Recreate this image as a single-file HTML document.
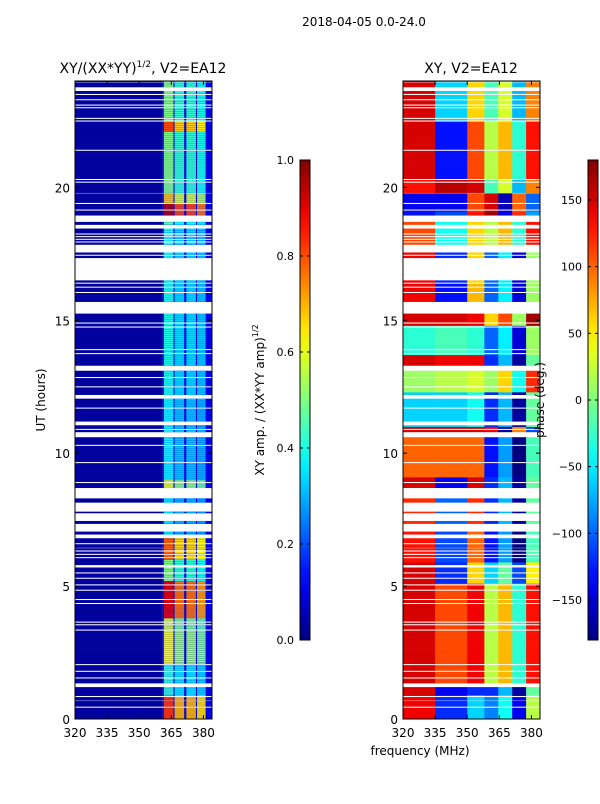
<!DOCTYPE html>
<html><head><meta charset="utf-8"><style>
body{margin:0;background:#fff;width:600px;height:800px;overflow:hidden;font-family:"DejaVu Sans","Liberation Sans",sans-serif}
svg text{font-family:"DejaVu Sans","Liberation Sans",sans-serif;fill:#000}
</style></head><body>
<svg id="fig" width="600" height="800" xmlns="http://www.w3.org/2000/svg">
<text x="364" y="26" font-size="12" text-anchor="middle">2018-04-05 0.0-24.0</text>
<text x="143" y="73" font-size="14" text-anchor="middle">XY/(XX*YY)<tspan dy="-6" font-size="9">1/2</tspan><tspan dy="6">, V2=EA12</tspan></text>
<text x="471" y="73" font-size="14" text-anchor="middle">XY, V2=EA12</text>
<text x="45" y="400" font-size="12" text-anchor="middle" transform="rotate(-90 45 400)">UT (hours)</text>
<text x="420" y="755" font-size="12" text-anchor="middle">frequency (MHz)</text>
<text x="264" y="400" font-size="12" text-anchor="middle" transform="rotate(-90 264 400)">XY amp. / (XX*YY amp)<tspan dy="-6" font-size="8">1/2</tspan></text>
<g id="left"></g>
<g id="right"></g>
<g id="axes"></g>
<text x="544" y="400" font-size="12" text-anchor="middle" transform="rotate(-90 544 400)">phase (deg.)</text>
</svg>
<script>
// ---- data ----
var gaps=[[23.93,24],[23.63,23.78],[23.47,23.53],[23.27,23.33],[23.07,23.13],[22.97,23.03],[22.57,22.63],[22.47,22.53],[21.37,21.43],[20.27,20.33],[20.17,20.23],[19.75,19.82],[19.37,19.43],[19.12,19.18],[18.7,18.95],[18.45,18.6],[18.22,18.28],[18.12,18.18],[18.02,18.08],[17.93,17.98],[17.55,17.85],[17.42,17.48],[16.5,17.35],[16.37,16.43],[16.22,16.28],[16.02,16.08],[15.25,15.7],[14.87,14.93],[14.72,14.78],[13.87,13.93],[13.72,13.78],[13.1,13.3],[12.82,12.88],[12.47,12.53],[12.05,12.2],[11.67,11.73],[11.05,11.2],[10.87,10.93],[10.6,10.8],[10.27,10.33],[9.62,9.68],[8.87,8.93],[8.3,8.7],[7.8,8.15],[7.45,7.75],[7.05,7.35],[6.8,6.95],[6.57,6.63],[6.42,6.46],[6.3,6.34],[6.18,6.22],[6.06,6.1],[5.7,5.8],[5.47,5.53],[5.27,5.33],[5.02,5.08],[4.82,4.88],[4.47,4.53],[4.32,4.38],[3.62,3.68],[3.52,3.58],[3.32,3.38],[2.02,2.08],[1.77,1.83],[1.52,1.58],[1.2,1.35],[0.82,0.88],[0.65,0.72],[0.42,0.48]];
var ampSegStart=[0,0.9,2.1,3.3,3.8,5.2,6.0,6.9,8.7,9.0,12.0,18.5,18.9,19.4,19.8,22.1,22.5];
var ampSegLevel=[0.82,0.42,0.62,0.58,0.9,0.5,0.78,0.35,0.6,0.38,0.4,0.45,0.95,0.68,0.5,0.8,0.5];
var bandStart=[361.5,366.5,372,377];
var bandEnd=[366,371,376.5,381];
var bandMod=[1.0,0.85,0.85,0.8];
// phase segments (start hour) and phases for regions A(320-335) B(335-350) C(350-358) D(358-384)
var phSegStart=[0,0.9,1.2,5.1,5.9,7.1,8.6,9.1,10.7,11.0,12.3,13.3,13.7,14.8,15.3,16.4,17.6,18.8,19.1,19.8,20.3,22.5];
var phA=[140,150,150,150,130,120,150,100,150,-60,10,150,-30,150,140,140,110,-130,-140,130,150,150];
var phB=[-120,-140,110,-120,-110,-100,-140,100,150,-60,20,140,-20,150,-130,-120,-40,-110,-140,160,-130,-60];
var phC=[-60,-120,140,60,100,120,150,100,150,-40,30,140,-30,140,70,60,60,130,110,150,110,60];
var phD=[-90,-120,20,-60,-130,-120,-120,-130,140,-120,10,-120,-100,60,-100,-100,20,170,150,-20,20,-20];
var dOffset=[0,50,-50,110];
var ampTicks=[0,0.2,0.4,0.6,0.8,1.0];
var phTicks=[-150,-100,-50,0,50,100,150];
var timeTicks=[0,5,10,15,20];
var freqTicks=[320,335,350,365,380];

// ---- geometry ----
var NS='http://www.w3.org/2000/svg';
var Y0=719,Y1=81;
function yT(t){return Y0-(t/24)*(Y0-Y1);}
function xF(x0,f){return x0+(f-320)/64*137;}
function jet(v){v=Math.max(0,Math.min(1,v));
 function c(x){return Math.round(255*Math.max(0,Math.min(1,x)));}
 var r=c(Math.min(4*v-1.5,-4*v+4.5)),g=c(Math.min(4*v-0.5,-4*v+3.5)),b=c(Math.min(4*v+0.5,-4*v+2.5));
 return 'rgb('+r+','+g+','+b+')';}
function el(tag,attrs,parent){var e=document.createElementNS(NS,tag);for(var k in attrs)e.setAttribute(k,attrs[k]);parent.appendChild(e);return e;}
function inGap(t){for(var i=0;i<gaps.length;i++){var a=gaps[i][0],b=gaps[i][1];
 if(b-a<0.08){var m=(a+b)/2;a=m-0.02;b=m+0.02;}
 if(t>=a&&t<b)return true;}return false;}
function segIdx(starts,t){var k=0;for(var i=0;i<starts.length;i++)if(t>=starts[i])k=i;return k;}
function wrap(p){while(p>180)p-=360;while(p<-180)p+=360;return p;}

var L=document.getElementById('left'),R=document.getElementById('right');
var dt=0.025;
for(var t=0;t<24-1e-9;t+=dt){
 var tc=t+dt/2;if(inGap(tc))continue;
 var y=yT(t+dt),h=yT(t)-yT(t+dt)+0.3;
 var lv=ampSegLevel[segIdx(ampSegStart,tc)];
 var r=el('rect',{x:75,y:y,width:xF(75,361)-75,height:h,fill:jet(0.03)},L);
 
 
 r=el('rect',{x:xF(75,361),y:y,width:xF(75,384)-xF(75,361),height:h,fill:jet(0.1)},L);
 
 
 for(var b=0;b<bandStart.length;b++){
  var c=el('rect',{x:xF(75,bandStart[b]),y:y,width:xF(75,bandEnd[b])-xF(75,bandStart[b]),height:h,fill:jet(lv*bandMod[b])},L);
  
  
 }
 var k=segIdx(phSegStart,tc);
 var regs=[[320,335,phA[k]],[335,350,phB[k]],[350,358,phC[k]]];
 for(var i=0;i<regs.length;i++){
  var c2=el('rect',{x:xF(403,regs[i][0]),y:y,width:xF(403,regs[i][1])-xF(403,regs[i][0])+0.3,height:h,fill:jet((wrap(regs[i][2])+180)/360)},R);
  
  
 }
 for(var d=0;d<4;d++){
  var f0=358+d*6.5,f1=f0+6.5;
  var c3=el('rect',{x:xF(403,f0),y:y,width:xF(403,f1)-xF(403,f0)+0.3,height:h,fill:jet((wrap(phD[k]+dOffset[d])+180)/360)},R);
  
  
 }
}
var A=document.getElementById('axes');
[[75,'left'],[403,'right']].forEach(function(p){
 var x0=p[0];
 var fr=el('rect',{x:x0,y:Y1,width:137,height:Y0-Y1,fill:'none',stroke:'#000','stroke-width':1},A);
 
 
 timeTicks.forEach(function(tv){
  var yy=yT(tv);
  el('line',{x1:x0,x2:x0+4,y1:yy,y2:yy,stroke:'#000'},A);
  el('line',{x1:x0+137,x2:x0+133,y1:yy,y2:yy,stroke:'#000'},A);
  var tx=el('text',{x:x0-5,y:yy+5,'font-size':12,'text-anchor':'end'},A);tx.textContent=tv;
  
  
 });
 freqTicks.forEach(function(fv){
  var xx=xF(x0,fv);
  el('line',{x1:xx,x2:xx,y1:Y0,y2:Y0-4,stroke:'#000'},A);
  el('line',{x1:xx,x2:xx,y1:Y1,y2:Y1+4,stroke:'#000'},A);
  var tx=el('text',{x:xx,y:Y0+18,'font-size':12,'text-anchor':'middle'},A);tx.textContent=fv;
  
  
 });
});
function colorbar(x,id,ticks,vmin,vmax,fmt,name){
 var defs=el('defs',{},A);
 var g=el('linearGradient',{id:id,x1:0,y1:1,x2:0,y2:0},defs);
 for(var i=0;i<=20;i++)el('stop',{offset:i/20,'stop-color':jet(i/20)},g);
 var cb=el('rect',{x:x,y:160,width:10,height:480,fill:'url(#'+id+')',stroke:'#000','stroke-width':1},A);
 
 
 ticks.forEach(function(v){
  var yy=640-(v-vmin)/(vmax-vmin)*480;
  el('line',{x1:x,x2:x+3,y1:yy,y2:yy,stroke:'#000'},A);
  el('line',{x1:x+10,x2:x+7,y1:yy,y2:yy,stroke:'#000'},A);
  var tx=el('text',{x:x-6,y:yy+4,'font-size':11,'text-anchor':'end'},A);tx.textContent=fmt(v);
  
  
 });
}
colorbar(300,'g1',ampTicks,0,1,function(v){return v.toFixed(1);},'amp-colorbar');
colorbar(588,'g2',phTicks,-180,180,function(v){return v<0?'\u2212'+(-v):''+v;},'phase-colorbar');
</script>
</body></html>
